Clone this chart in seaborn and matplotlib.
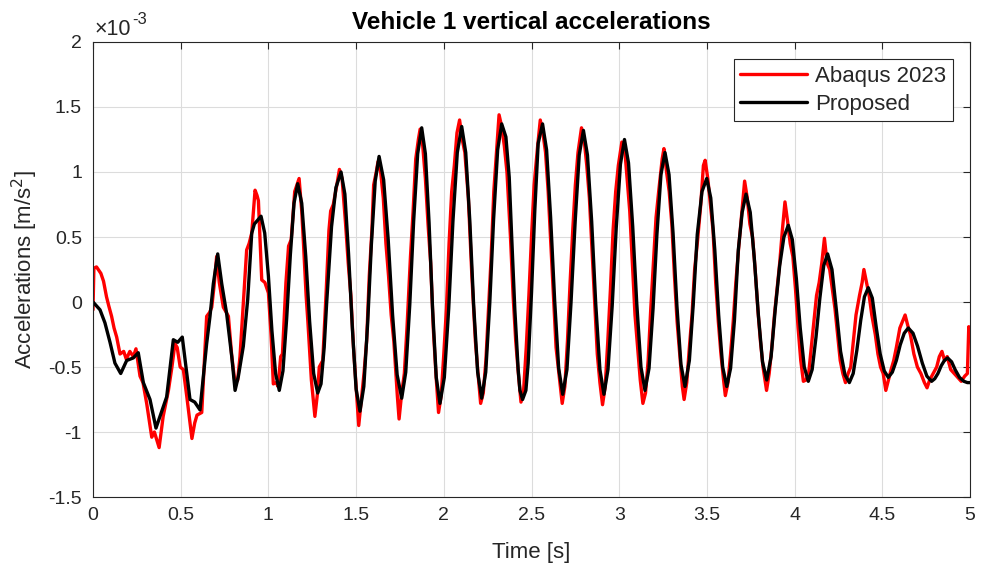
import numpy as np
import pandas as pd
import matplotlib
matplotlib.use("Agg")
import matplotlib.pyplot as plt
import seaborn as sns

# Vertical acceleration of vehicle 1 (values in 1e-3 m/s^2)
time_abaqus = [
    0.000, 0.005, 0.020, 0.045, 0.060, 0.077, 0.090, 0.106, 0.120, 0.135,
    0.154, 0.175, 0.190, 0.210, 0.230, 0.245, 0.268, 0.285, 0.306, 0.335,
    0.350, 0.377, 0.400, 0.430, 0.450, 0.467, 0.480, 0.497, 0.515, 0.535,
    0.564, 0.580, 0.593, 0.620, 0.635, 0.648, 0.665, 0.677, 0.690, 0.705,
    0.720, 0.743, 0.760, 0.772, 0.790, 0.810, 0.825, 0.838, 0.855, 0.876,
    0.890, 0.905, 0.924, 0.935, 0.943, 0.962, 0.980, 1.000, 1.015, 1.028,
    1.045, 1.055, 1.070, 1.080, 1.100, 1.115, 1.130, 1.150, 1.175, 1.190,
    1.200, 1.215, 1.225, 1.245, 1.265, 1.280, 1.290, 1.310, 1.330, 1.345,
    1.355, 1.370, 1.390, 1.405, 1.420, 1.440, 1.455, 1.470, 1.485, 1.500,
    1.515, 1.530, 1.545, 1.560, 1.575, 1.590, 1.600, 1.615, 1.625, 1.640,
    1.655, 1.670, 1.685, 1.700, 1.715, 1.735, 1.745, 1.760, 1.775, 1.790,
    1.810, 1.825, 1.840, 1.855, 1.865, 1.880, 1.895, 1.910, 1.925, 1.940,
    1.955, 1.970, 1.985, 2.000, 2.015, 2.030, 2.045, 2.060, 2.075, 2.090,
    2.105, 2.120, 2.140, 2.160, 2.180, 2.195, 2.210, 2.225, 2.240, 2.255,
    2.270, 2.285, 2.300, 2.315, 2.330, 2.345, 2.360, 2.380, 2.395, 2.410,
    2.425, 2.440, 2.455, 2.470, 2.485, 2.500, 2.515, 2.535, 2.550, 2.565,
    2.580, 2.595, 2.610, 2.625, 2.640, 2.660, 2.675, 2.690, 2.705, 2.720,
    2.735, 2.750, 2.765, 2.785, 2.800, 2.815, 2.830, 2.845, 2.860, 2.875,
    2.890, 2.905, 2.920, 2.935, 2.950, 2.965, 2.980, 2.995, 3.015, 3.030,
    3.045, 3.060, 3.075, 3.090, 3.105, 3.120, 3.135, 3.150, 3.165, 3.180,
    3.195, 3.210, 3.225, 3.245, 3.255, 3.270, 3.285, 3.300, 3.315, 3.330,
    3.345, 3.360, 3.370, 3.385, 3.400, 3.415, 3.430, 3.445, 3.465, 3.480,
    3.490, 3.505, 3.520, 3.535, 3.550, 3.565, 3.580, 3.595, 3.605, 3.620,
    3.635, 3.650, 3.665, 3.680, 3.700, 3.715, 3.730, 3.745, 3.760, 3.775,
    3.790, 3.805, 3.820, 3.840, 3.855, 3.870, 3.885, 3.900, 3.915, 3.930,
    3.945, 3.960, 3.975, 3.990, 4.005, 4.020, 4.035, 4.050, 4.065, 4.080,
    4.095, 4.110, 4.125, 4.140, 4.155, 4.170, 4.185, 4.200, 4.215, 4.230,
    4.245, 4.260, 4.275, 4.290, 4.305, 4.320, 4.335, 4.350, 4.370, 4.385,
    4.395, 4.410, 4.425, 4.440, 4.460, 4.475, 4.490, 4.505, 4.520, 4.535,
    4.550, 4.565, 4.580, 4.600, 4.615, 4.630, 4.645, 4.660, 4.680, 4.700,
    4.720, 4.740, 4.755, 4.770, 4.790, 4.810, 4.825, 4.840, 4.855, 4.870,
    4.890, 4.910, 4.930, 4.950, 4.970, 4.985, 4.993, 5.000,
]
acc_abaqus = [
    -0.06, 0.26, 0.27, 0.22, 0.16, 0.04, -0.03, -0.11, -0.20, -0.27,
    -0.40, -0.38, -0.44, -0.38, -0.42, -0.36, -0.57, -0.62, -0.78, -1.04,
    -1.00, -1.12, -0.88, -0.68, -0.50, -0.32, -0.35, -0.50, -0.52, -0.73,
    -1.05, -0.93, -0.87, -0.85, -0.45, -0.11, -0.08, -0.04, 0.12, 0.35,
    0.15, -0.04, -0.08, -0.11, -0.40, -0.63, -0.60, -0.42, -0.05, 0.40,
    0.45, 0.53, 0.86, 0.82, 0.78, 0.17, 0.15, 0.07, -0.25, -0.63,
    -0.62, -0.65, -0.42, -0.40, 0.15, 0.43, 0.48, 0.85, 0.95, 0.70,
    0.45, 0.05, -0.15, -0.60, -0.88, -0.70, -0.50, -0.45, 0.10, 0.55,
    0.70, 0.75, 0.90, 1.02, 0.95, 0.60, 0.30, 0.05, -0.35, -0.65,
    -0.95, -0.75, -0.55, -0.30, 0.20, 0.55, 0.90, 1.00, 1.08, 1.00,
    0.80, 0.45, 0.20, -0.10, -0.30, -0.72, -0.90, -0.70, -0.55, -0.20,
    0.35, 0.70, 1.10, 1.25, 1.33, 1.20, 0.95, 0.60, 0.30, -0.20,
    -0.55, -0.85, -0.72, -0.40, -0.05, 0.45, 0.85, 1.05, 1.30, 1.40,
    1.25, 1.15, 0.80, 0.20, -0.30, -0.55, -0.78, -0.70, -0.45, -0.05,
    0.35, 0.85, 1.15, 1.44, 1.35, 1.20, 1.00, 0.50, 0.05, -0.30,
    -0.55, -0.77, -0.68, -0.35, 0.05, 0.50, 0.90, 1.20, 1.40, 1.30,
    1.15, 0.85, 0.45, 0.05, -0.35, -0.60, -0.78, -0.65, -0.30, 0.15,
    0.55, 0.90, 1.15, 1.34, 1.25, 1.05, 0.80, 0.40, 0.00, -0.40,
    -0.62, -0.79, -0.65, -0.30, 0.10, 0.55, 0.85, 1.05, 1.23, 1.20,
    0.95, 0.70, 0.30, -0.10, -0.35, -0.60, -0.78, -0.70, -0.45, -0.05,
    0.30, 0.65, 0.85, 1.10, 1.18, 1.00, 0.85, 0.60, 0.20, -0.15,
    -0.40, -0.65, -0.75, -0.62, -0.35, -0.10, 0.25, 0.45, 0.75, 1.05,
    1.09, 0.95, 0.75, 0.55, 0.15, -0.15, -0.40, -0.60, -0.72, -0.62,
    -0.40, -0.15, 0.15, 0.40, 0.70, 0.93, 0.80, 0.60, 0.50, 0.25,
    -0.05, -0.30, -0.50, -0.68, -0.55, -0.35, -0.10, 0.10, 0.30, 0.55,
    0.77, 0.62, 0.45, 0.35, 0.10, -0.20, -0.45, -0.61, -0.60, -0.55,
    -0.35, -0.15, 0.05, 0.15, 0.30, 0.49, 0.30, 0.25, 0.10, -0.05,
    -0.25, -0.45, -0.55, -0.62, -0.55, -0.50, -0.30, -0.10, 0.05, 0.15,
    0.25, 0.15, 0.05, -0.10, -0.25, -0.40, -0.50, -0.55, -0.68, -0.60,
    -0.52, -0.45, -0.35, -0.20, -0.15, -0.10, -0.18, -0.25, -0.40, -0.50,
    -0.55, -0.62, -0.66, -0.60, -0.55, -0.50, -0.42, -0.38, -0.45, -0.42,
    -0.52, -0.55, -0.58, -0.61, -0.57, -0.55, -0.19, -0.29,
]

time_proposed = [
    0.000, 0.040, 0.068, 0.097, 0.125, 0.158, 0.192, 0.230, 0.258, 0.287,
    0.325, 0.359, 0.382, 0.420, 0.458, 0.483, 0.509, 0.553, 0.580, 0.610,
    0.648, 0.667, 0.686, 0.711, 0.734, 0.762, 0.791, 0.810, 0.829, 0.857,
    0.882, 0.905, 0.920, 0.958, 0.979, 1.000, 1.020, 1.041, 1.062, 1.083,
    1.104, 1.125, 1.146, 1.167, 1.190, 1.213, 1.235, 1.258, 1.281, 1.300,
    1.318, 1.332, 1.360, 1.385, 1.414, 1.436, 1.457, 1.479, 1.500, 1.522,
    1.544, 1.566, 1.587, 1.609, 1.631, 1.657, 1.683, 1.708, 1.734, 1.760,
    1.783, 1.806, 1.828, 1.851, 1.874, 1.895, 1.916, 1.936, 1.957, 1.978,
    2.003, 2.028, 2.052, 2.077, 2.102, 2.125, 2.148, 2.170, 2.193, 2.216,
    2.239, 2.262, 2.284, 2.307, 2.330, 2.354, 2.373, 2.387, 2.405, 2.424,
    2.434, 2.449, 2.468, 2.481, 2.500, 2.519, 2.538, 2.563, 2.586, 2.609,
    2.632, 2.655, 2.678, 2.702, 2.725, 2.749, 2.772, 2.796, 2.819, 2.843,
    2.866, 2.890, 2.913, 2.936, 2.960, 2.983, 3.007, 3.030, 3.053, 3.077,
    3.100, 3.124, 3.147, 3.170, 3.193, 3.215, 3.238, 3.261, 3.284, 3.307,
    3.329, 3.352, 3.375, 3.400, 3.422, 3.445, 3.472, 3.499, 3.522, 3.545,
    3.567, 3.590, 3.613, 3.635, 3.657, 3.679, 3.701, 3.723, 3.747, 3.770,
    3.794, 3.817, 3.841, 3.866, 3.890, 3.915, 3.939, 3.964, 3.987, 4.010,
    4.032, 4.055, 4.078, 4.100, 4.122, 4.144, 4.166, 4.188, 4.213, 4.238,
    4.262, 4.287, 4.312, 4.334, 4.355, 4.377, 4.398, 4.420, 4.443, 4.466,
    4.488, 4.511, 4.534, 4.557, 4.580, 4.602, 4.625, 4.648, 4.675, 4.701,
    4.728, 4.754, 4.781, 4.799, 4.817, 4.836, 4.854, 4.872, 4.895, 4.915,
    4.940, 4.965, 4.985, 5.000,
]
acc_proposed = [
    0.00, -0.06, -0.16, -0.31, -0.47, -0.55, -0.45, -0.43, -0.39, -0.62,
    -0.75, -0.97, -0.88, -0.73, -0.29, -0.31, -0.27, -0.75, -0.77, -0.83,
    -0.32, -0.11, 0.14, 0.37, 0.14, -0.09, -0.42, -0.68, -0.57, -0.34,
    0.02, 0.53, 0.60, 0.66, 0.53, 0.20, -0.22, -0.55, -0.68, -0.53,
    -0.13, 0.36, 0.76, 0.91, 0.76, 0.35, -0.15, -0.55, -0.70, -0.63,
    -0.35, -0.01, 0.58, 0.88, 1.00, 0.83, 0.37, -0.21, -0.67, -0.84,
    -0.65, -0.16, 0.44, 0.93, 1.12, 0.94, 0.48, -0.10, -0.56, -0.74,
    -0.54, -0.02, 0.62, 1.14, 1.34, 1.14, 0.61, -0.05, -0.58, -0.78,
    -0.58, -0.05, 0.62, 1.15, 1.35, 1.15, 0.63, -0.02, -0.54, -0.74,
    -0.54, -0.01, 0.64, 1.17, 1.37, 1.27, 0.96, 0.50, -0.06, -0.52,
    -0.68, -0.75, -0.68, -0.47, 0.07, 0.71, 1.22, 1.37, 1.17, 0.65,
    0.01, -0.51, -0.71, -0.52, -0.01, 0.62, 1.13, 1.32, 1.13, 0.62,
    -0.01, -0.52, -0.71, -0.52, -0.03, 0.57, 1.06, 1.25, 1.07, 0.58,
    -0.01, -0.50, -0.68, -0.51, -0.05, 0.52, 0.98, 1.15, 0.98, 0.53,
    -0.03, -0.48, -0.65, -0.45, -0.02, 0.52, 0.85, 0.95, 0.80, 0.40,
    -0.10, -0.50, -0.65, -0.51, -0.14, 0.40, 0.69, 0.83, 0.69, 0.34,
    -0.11, -0.46, -0.60, -0.42, -0.05, 0.28, 0.50, 0.59, 0.48, 0.18,
    -0.20, -0.50, -0.61, -0.52, -0.27, 0.03, 0.28, 0.37, 0.25, -0.06,
    -0.38, -0.56, -0.62, -0.55, -0.37, -0.14, 0.04, 0.11, 0.03, -0.20,
    -0.40, -0.53, -0.58, -0.54, -0.45, -0.33, -0.24, -0.20, -0.24, -0.34,
    -0.47, -0.57, -0.61, -0.59, -0.55, -0.49, -0.45, -0.43, -0.46, -0.52,
    -0.58, -0.61, -0.62, -0.62,
]

series_names = ["Abaqus 2023", "Proposed"]
series_colors = ["#ff0000", "#000000"]
x_ticks = [0, 0.5, 1, 1.5, 2, 2.5, 3, 3.5, 4, 4.5, 5]
y_ticks = [-1.5, -1, -0.5, 0, 0.5, 1, 1.5, 2]

df = pd.concat([
    pd.DataFrame({"t": time_abaqus, "a": acc_abaqus, "series": series_names[0]}),
    pd.DataFrame({"t": time_proposed, "a": acc_proposed, "series": series_names[1]}),
], ignore_index=True)

sns.set_theme(style="whitegrid")
plt.rcParams["font.family"] = ["Liberation Sans", "DejaVu Sans"]
plt.rcParams["axes.unicode_minus"] = False

ink = "#262626"
fig = plt.figure(figsize=(9.81, 5.66), dpi=100)
ax = fig.add_axes([0.0948, 0.1219, 0.8940, 0.8039])

sns.lineplot(data=df, x="t", y="a", hue="series", palette=series_colors,
             hue_order=series_names, estimator=None, sort=False,
             linewidth=2.4, solid_joinstyle="round", solid_capstyle="round",
             ax=ax)

ax.set_xlim(0, 5)
ax.set_ylim(-1.5, 2)
ax.set_xticks(x_ticks)
ax.set_yticks(y_ticks)
ax.set_xticklabels([f"{v:g}" for v in x_ticks])
ax.set_yticklabels([f"{v:g}" for v in y_ticks])
ax.tick_params(axis="both", labelsize=14, colors=ink, direction="in",
               length=5, width=0.8, top=True, right=True)
ax.tick_params(axis="y", pad=8)
ax.tick_params(axis="x", pad=7)
ax.grid(True, color="#dcdcdc", linewidth=0.8)
ax.set_facecolor("white")
for sp in ax.spines.values():
    sp.set_color(ink)
    sp.set_linewidth(0.8)

ax.set_xlabel("Time [s]", fontsize=16, color=ink, labelpad=13)
ax.set_ylabel("Accelerations [m/s$^2$]", fontsize=16, color=ink, labelpad=6)
ax.set_title("Vehicle 1 vertical accelerations", fontsize=17.5,
             fontweight="bold", color="black", pad=9)

# exponent label above the y axis
base = ax.text(0.002, 1.016, "\u00d710", transform=ax.transAxes,
               fontsize=15.5, color=ink, ha="left", va="baseline")
ax.annotate("-3", xy=(1.02, 0.62), xycoords=base, fontsize=12, color=ink,
            ha="left", va="bottom")

leg = ax.legend(loc="upper right", fontsize=16, frameon=True, fancybox=False,
                edgecolor=ink, framealpha=1, handlelength=3.0,
                borderaxespad=0.78, labelspacing=0.3, borderpad=0.3,
                handletextpad=0.35)
leg.get_frame().set_linewidth(0.8)
for line in leg.get_lines():
    line.set_linewidth(2.4)

fig.savefig("out.png", dpi=100)
